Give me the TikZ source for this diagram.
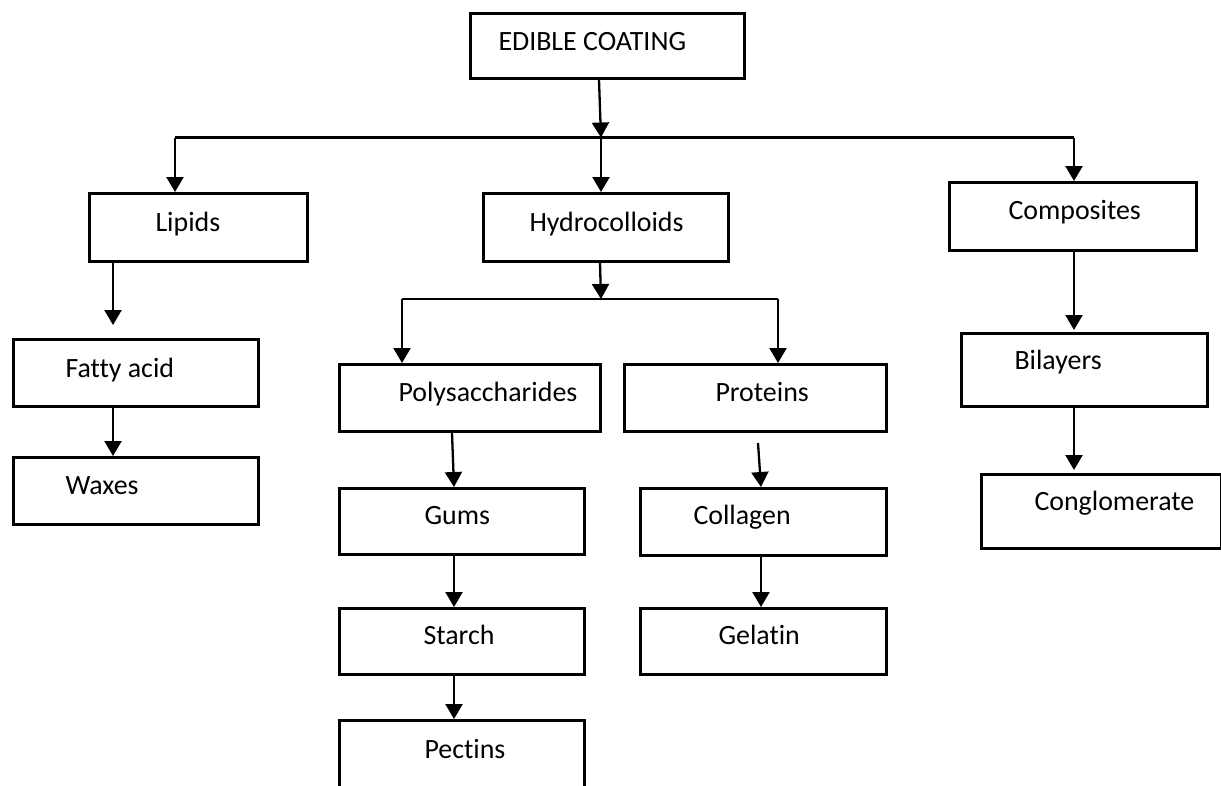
\documentclass[tikz,border=0pt]{standalone}
\usepackage{fontspec}
\setmainfont{Carlito}[Ligatures=NoCommon]
\usetikzlibrary{arrows.meta,calc}
\begin{document}
\begin{tikzpicture}[x=1pt,y=-1pt,
  box/.style={draw, line width=3pt, inner sep=0pt, anchor=north west,
              font=\fontsize{27.9}{32}\selectfont},
  bx/.style n args={4}{minimum width=#1, minimum height=#2, text height=#3, text depth=#4},
  conn/.style={line width=2.3pt},
  arr/.style={conn, -{Triangle[width=17pt,length=15pt]}}]
\useasboundingbox (0,0) rectangle (1221,785);

\newcommand{\boxtext}[3]{\makebox[#1][l]{\hspace*{#2}#3}}

\node[box, bx={274pt}{65pt}{9pt}{0pt}] (ec) at (469,12) {\boxtext{274pt}{28pt}{EDIBLE COATING}};
\node[box, bx={218pt}{68pt}{8pt}{0pt}] (lip) at (88,192) {\boxtext{218pt}{66pt}{Lipids}};
\node[box, bx={245pt}{68pt}{8pt}{0pt}] (hyd) at (482,192) {\boxtext{245pt}{46pt}{Hydrocolloids}};
\node[box, bx={247pt}{68pt}{6pt}{0pt}] (com) at (948,181) {\boxtext{247pt}{59pt}{Composites}};
\node[box, bx={245pt}{67pt}{9pt}{0pt}] (fat) at (12,338) {\boxtext{245pt}{52pt}{Fatty acid}};
\node[box, bx={245pt}{67pt}{7pt}{0pt}] (wax) at (12,456) {\boxtext{245pt}{52pt}{Waxes}};
\node[box, bx={261pt}{67pt}{7pt}{0pt}] (pol) at (338,363) {\boxtext{261pt}{59pt}{Polysaccharides}};
\node[box, bx={262pt}{67pt}{7pt}{0pt}] (pro) at (623,363) {\boxtext{262pt}{91pt}{Proteins}};
\node[box, bx={245pt}{66pt}{6pt}{0pt}] (gum) at (338,487) {\boxtext{245pt}{85pt}{Gums}};
\node[box, bx={246pt}{67pt}{5pt}{0pt}] (col) at (639,487) {\boxtext{246pt}{53pt}{Collagen}};
\node[box, bx={245pt}{66pt}{6pt}{0pt}] (sta) at (338,607) {\boxtext{245pt}{84pt}{Starch}};
\node[box, bx={246pt}{66pt}{6pt}{0pt}] (gel) at (639,607) {\boxtext{246pt}{78pt}{Gelatin}};
\node[box, bx={245pt}{71pt}{5pt}{0pt}] (pec) at (338,719) {\boxtext{245pt}{85pt}{Pectins}};
\node[box, bx={246pt}{73pt}{0pt}{1pt}] (bil) at (960,332) {\boxtext{246pt}{53pt}{Bilayers}};
\node[box, bx={240pt}{74pt}{0pt}{2pt}] (con) at (980,473) {\boxtext{240pt}{53pt}{Conglomerate}};

\coordinate (j1) at (601,137.5);
\coordinate (jl) at (175,137.5);
\coordinate (jr) at (1074,137.5);
\coordinate (j2) at (601,299);
\coordinate (jpl) at (402,299);
\coordinate (jpr) at (778,299);
\coordinate (a1) at (113,325);
\coordinate (a2) at (758,443);
\coordinate (a3) at (1074,330);
\coordinate (a4) at (1074,470);

\draw[arr] ($(ec.south west)+(130,0)$) -- (j1);
\draw[conn] (jl) -- (jr);
\draw[arr] (jl) -- (jl |- lip.north);
\draw[arr] (j1) -- (j1 |- hyd.north);
\draw[arr] (jr) -- (jr |- com.north);

\draw[arr] ($(hyd.south west)+(118,0)$) -- (j2);
\draw[conn] (jpl) -- (jpr);
\draw[arr] (jpl) -- (jpl |- pol.north);
\draw[arr] (jpr) -- (jpr |- pro.north);

\draw[arr] (a1 |- lip.south) -- (a1);
\draw[arr] (a1 |- fat.south) -- (a1 |- wax.north);

\draw[arr] ($(pol.south west)+(114,0)$) -- ($(gum.north west)+(116,0)$);
\draw[arr] ($(gum.south west)+(116,0)$) -- ($(sta.north west)+(116,0)$);
\draw[arr] ($(sta.south west)+(116,0)$) -- ($(pec.north west)+(116,0)$);

\draw[arr] (a2) -- ($(col.north west)+(122,0)$);
\draw[arr] ($(col.south west)+(122,0)$) -- ($(gel.north west)+(122,0)$);

\draw[arr] (jr |- com.south) -- (a3);
\draw[arr] (a3 |- bil.south) -- (a4);
\end{tikzpicture}
\end{document}
